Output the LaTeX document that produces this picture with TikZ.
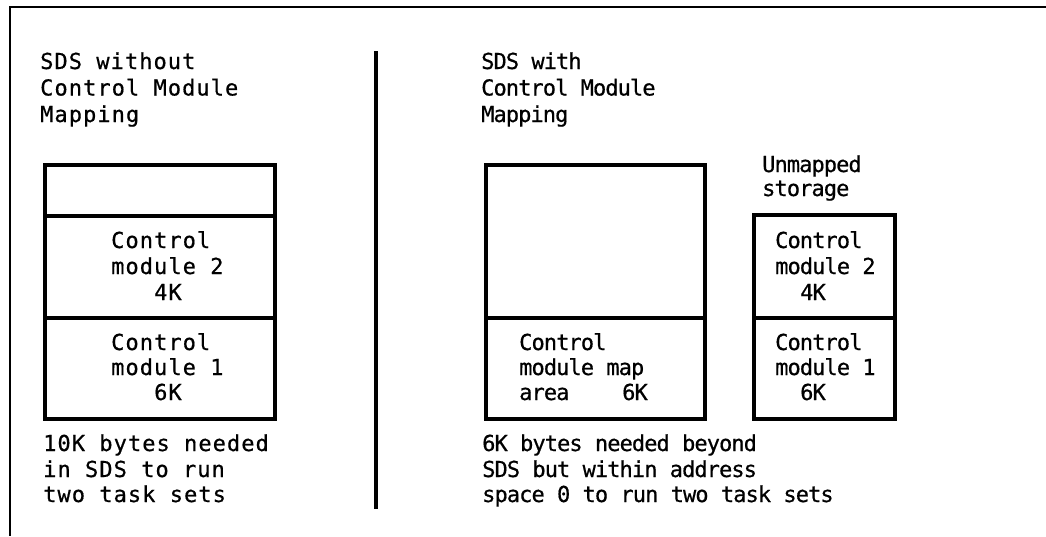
\documentclass[tikz,border=0pt]{standalone}
\usepackage{fontspec}
\newfontfamily\lfont[LetterSpace=4.8,FakeBold=0.6]{DejaVu Sans Mono}
\newfontfamily\rfont[LetterSpace=-4.2,FakeBold=0.6]{DejaVu Sans Mono}
\begin{document}
\begin{tikzpicture}[x=1pt,y=-1pt,
  ltxt/.style={anchor=base west, inner sep=0pt, font=\lfont\fontsize{22}{26}\selectfont},
  rtxt/.style={anchor=base west, inner sep=0pt, font=\rfont\fontsize{22}{26}\selectfont},
  cell/.style={draw, line width=3.2pt, inner sep=0pt},
  frameline/.style={line width=2.6pt},
  divline/.style={line width=3.2pt}]
\useasboundingbox (0,0) rectangle (1046,536);
% frame (cropped: top and left edges)
\coordinate (ftr) at (1046,7);
\coordinate (ftl) at (10,7);
\coordinate (fbl) at (10,536);
\draw[frameline] (ftr) -- (ftl) -- (fbl);
% divider
\coordinate (dtop) at (376,51);
\coordinate (dbot) at (376,509);
\draw[divline] (dtop) -- (dbot);
% left box
\node[cell, minimum width=230pt, minimum height=51pt] (L0) at (160,190.5) {};
\node[cell, minimum width=230pt, minimum height=102pt] (L1) at (160,267) {};
\node[cell, minimum width=230pt, minimum height=101pt] (L2) at (160,368.5) {};
% middle box
\node[cell, minimum width=219pt, minimum height=153pt] (M0) at (595.5,241.5) {};
\node[cell, minimum width=219pt, minimum height=101pt] (M1) at (595.5,368.5) {};
% right box
\node[cell, minimum width=141pt, minimum height=103pt] (R0) at (824.5,266.5) {};
\node[cell, minimum width=141pt, minimum height=101pt] (R1) at (824.5,368.5) {};
% left texts
\node[ltxt] (lh1) at (40,69) {SDS without};
\node[ltxt] (lh2) at (40,95.5) {Control Module};
\node[ltxt] (lh3) at (40,122) {Mapping};
\node[ltxt] (la1) at (111,248) {Control};
\node[ltxt] (la2) at (111,274) {module 2};
\node[ltxt] (la3) at (154,300) {4K};
\node[ltxt] (lb1) at (111,350) {Control};
\node[ltxt] (lb2) at (111,375) {module 1};
\node[ltxt] (lb3) at (154,400) {6K};
\node[ltxt] (lc1) at (43,451) {10K bytes needed};
\node[ltxt] (lc2) at (43,477) {in SDS to run};
\node[ltxt] (lc3) at (43,502) {two task sets};
% right texts
\node[rtxt] (rh1) at (481,69) {SDS with};
\node[rtxt] (rh2) at (481,95.5) {Control Module};
\node[rtxt] (rh3) at (481,122) {Mapping};
\node[rtxt] (un1) at (762,172) {Unmapped};
\node[rtxt] (un2) at (762,196) {storage};
\node[rtxt] (ma1) at (519,350) {Control};
\node[rtxt] (ma2) at (519,375) {module map};
\node[rtxt] (ma3) at (519,400) {\makebox[103pt][l]{area}6K};
\node[rtxt] (ra1) at (775,248) {Control};
\node[rtxt] (ra2) at (775,274) {module 2};
\node[rtxt] (ra3) at (800,300) {4K};
\node[rtxt] (rb1) at (775,350) {Control};
\node[rtxt] (rb2) at (775,375) {module 1};
\node[rtxt] (rb3) at (800,400) {6K};
\node[rtxt] (rc1) at (482,451) {6K bytes needed beyond};
\node[rtxt] (rc2) at (482,477) {SDS but within address};
\node[rtxt] (rc3) at (482,502) {space 0 to run two task sets};
\end{tikzpicture}
\end{document}
